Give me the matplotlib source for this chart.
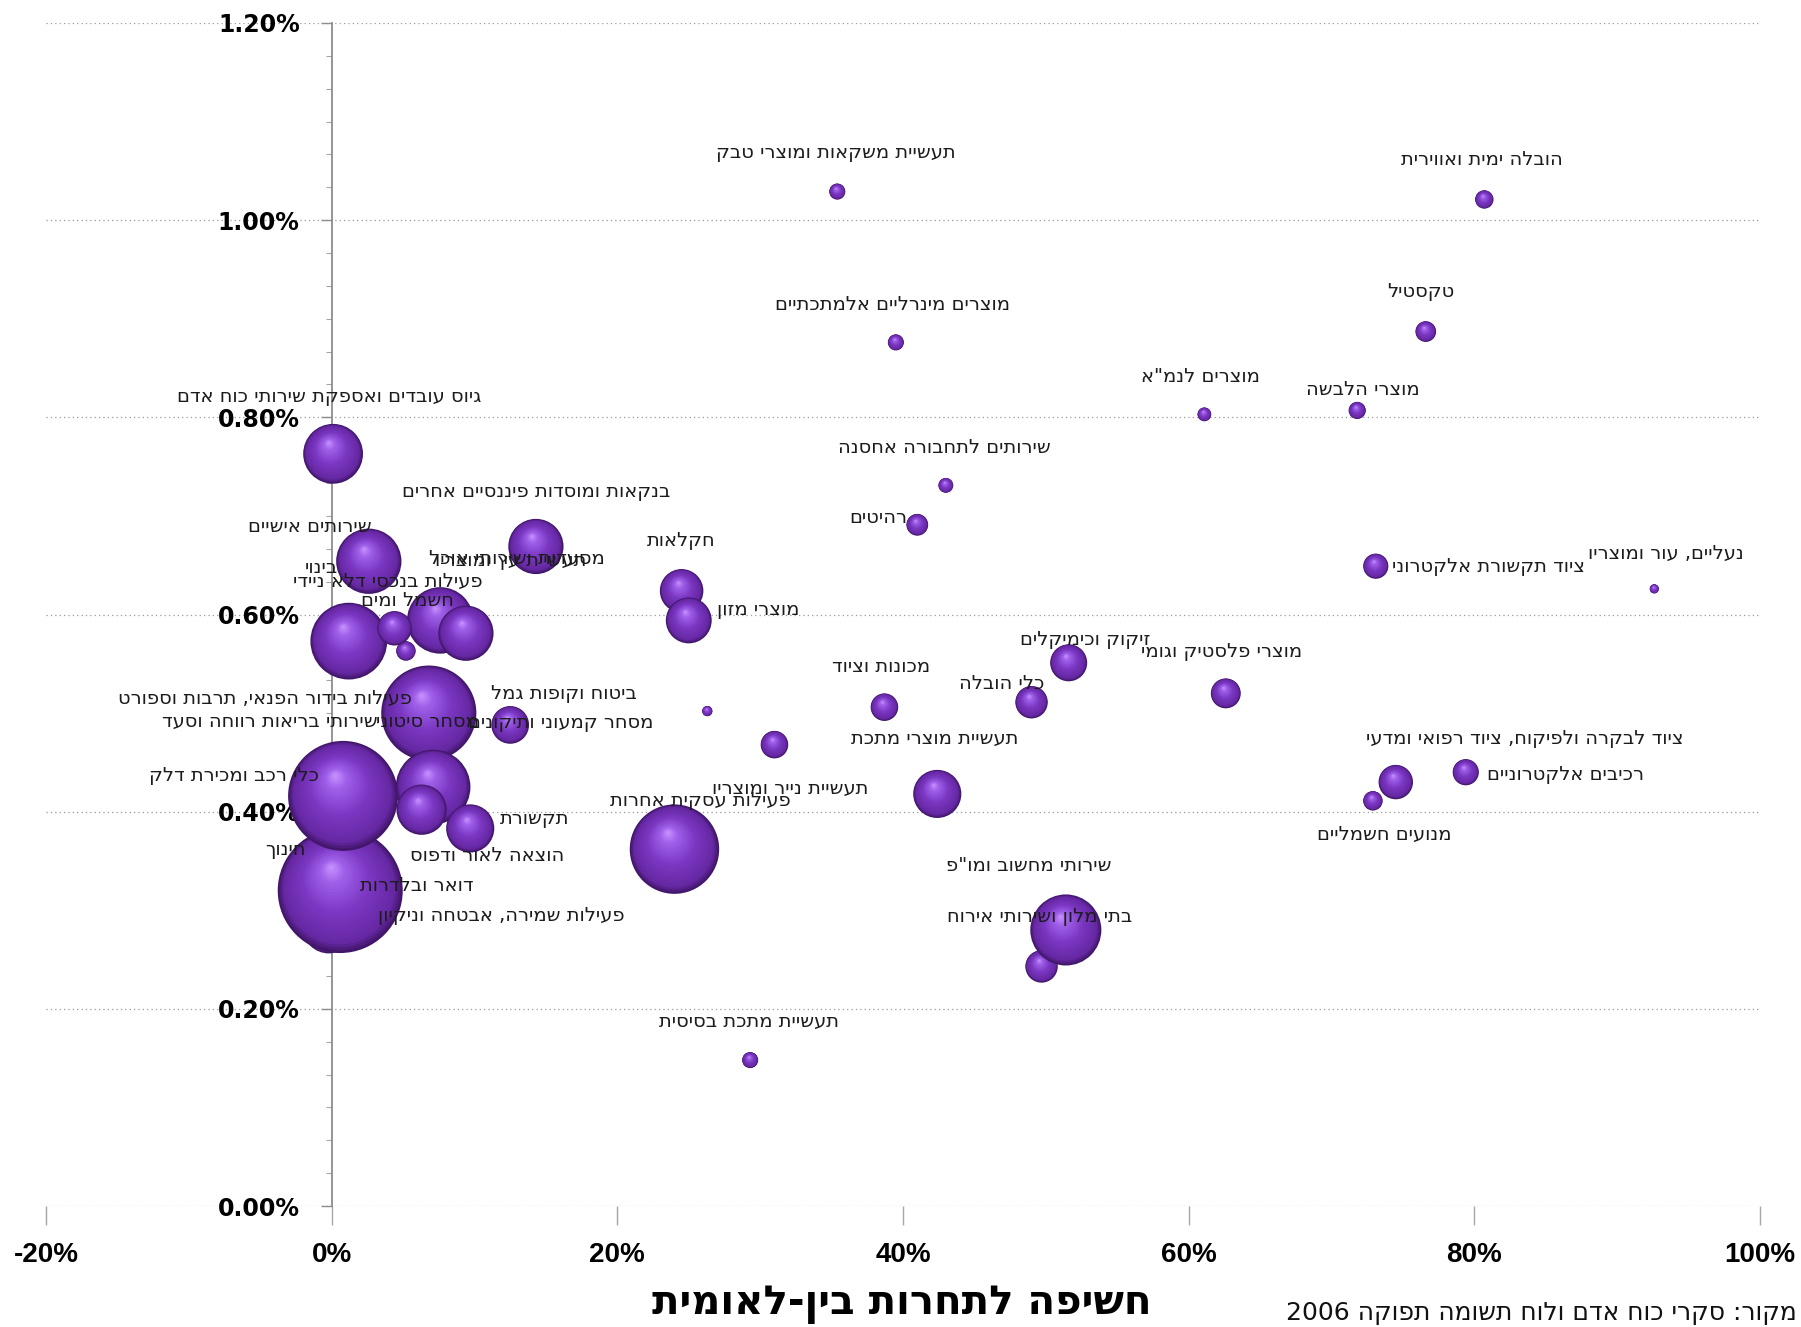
import re
import numpy as np
import matplotlib
matplotlib.use("Agg")
import matplotlib.pyplot as plt
from matplotlib.colors import LinearSegmentedColormap
from matplotlib.ticker import MultipleLocator

# sectors, listed in drawing order (back to front)
sectors = [
    "פעילות שמירה, אבטחה וניקיון",
    "בתי מלון ושירותי אירוח",
    "דואר ובלדרות",
    "תעשיית עץ ומוצריו",
    "חשמל ומים",
    "חינוך",
    "שירותי בריאות רווחה וסעד",
    "מסחר סיטוני",
    "פעילות עסקית אחרות",
    "פעילות בידור הפנאי, תרבות וספורט",
    "כלי רכב ומכירת דלק",
    "שירותי מחשוב ומו\"פ",
    "בינוי",
    "שירותים אישיים",
    "גיוס עובדים ואספקת שירותי כוח אדם",
    "בנקאות ומוסדות פיננסיים אחרים",
    "מסעדות ושירותי אוכל",
    "הוצאה לאור ודפוס",
    "תקשורת",
    "תעשיית מוצרי מתכת",
    "חקלאות",
    "מוצרי מזון",
    "מסחר קמעוני ותיקונים",
    "זיקוק וכימיקלים",
    "פעילות בנכסי דלא ניידי",
    "ציוד לבקרה ולפיקוח, ציוד רפואי ומדעי",
    "כלי הובלה",
    "מוצרי פלסטיק וגומי",
    "מכונות וציוד",
    "תעשיית נייר ומוצריו",
    "רכיבים אלקטרוניים",
    "ציוד תקשורת אלקטרוני",
    "רהיטים",
    "טקסטיל",
    "מנועים חשמליים",
    "הובלה ימית ואווירית",
    "מוצרי הלבשה",
    "תעשיית משקאות ומוצרי טבק",
    "מוצרים מינרליים אלמתכתיים",
    "תעשיית מתכת בסיסית",
    "שירותים לתחבורה אחסנה",
    "מוצרים לנמ\"א",
    "ביטוח וקופות גמל",
    "נעליים, עור ומוצריו",
]

# exposure to international competition (%)
exposure = [
    -0.2, 49.7, 2.5, 7.3, 5.2, 0.6, 0.8, 6.8, 24.0, 1.2, 7.1, 51.4, 7.6, 2.6,
    0.1, 14.3, 9.4, 6.3, 9.7, 42.4, 24.5, 25.0, 12.5, 51.6, 4.4, 74.5, 49.0,
    62.6, 38.7, 31.0, 79.4, 73.1, 41.0, 76.6, 72.9, 80.7, 71.8, 35.4, 39.5,
    29.3, 43.0, 61.1, 26.3, 92.6,
]

# vertical value (%)
share = [
    0.283, 0.243, 0.326, 0.524, 0.563, 0.320, 0.416, 0.500, 0.362, 0.573,
    0.425, 0.280, 0.594, 0.654, 0.763, 0.669, 0.581, 0.402, 0.383, 0.418,
    0.624, 0.594, 0.488, 0.551, 0.586, 0.430, 0.511, 0.520, 0.506, 0.468,
    0.440, 0.649, 0.691, 0.887, 0.411, 1.021, 0.807, 1.029, 0.876, 0.148,
    0.731, 0.803, 0.502, 0.626,
]

# bubble sizes (employment, thousands)
employed = [
    53, 20, 40, 22.5, 7.2, 297, 230, 172, 152, 112, 106, 96, 84, 81, 68, 58,
    58, 48, 44, 44, 36, 40, 27, 26, 22.5, 22.5, 20, 17, 14.4, 14.4, 13, 12,
    9, 8.1, 7.2, 6.4, 5.6, 4.9, 4.9, 4.9, 4.2, 3.6, 2.0, 1.6,
]

# where each sector name is written
label_x = [
    11.91, 49.56, 5.95, 12.55, 5.31, -3.22, -4.34, 6.68, 25.82, -4.67, -6.84,
    48.83, -0.72, -1.53, -0.16, 14.32, 12.95, 10.86, 14.24, 42.24, 24.46,
    29.85, 16.01, 52.78, 3.94, 83.51, 46.90, 62.27, 38.46, 32.10, 86.40,
    81.01, 38.29, 76.27, 73.69, 80.53, 72.16, 35.32, 39.26, 29.20, 42.88,
    60.82, 16.25, 93.40,
]
label_y = [
    0.2948, 0.2936, 0.3251, 0.6548, 0.6140, 0.3612, 0.4917, 0.4917, 0.4113,
    0.5150, 0.4369, 0.3449, 0.6478, 0.6897, 0.8214, 0.7247, 0.6571, 0.3554,
    0.3926, 0.4742, 0.6746, 0.6047, 0.4905, 0.5744, 0.6338, 0.4742, 0.5301,
    0.5627, 0.5476, 0.4241, 0.4381, 0.6490, 0.6979, 0.9274, 0.3775, 1.0614,
    0.8284, 1.0684, 0.9146, 0.1876, 0.7690, 0.8412, 0.5196, 0.6618,
]

x_ticks = [-20, 0, 20, 40, 60, 80, 100]
x_tick_labels = ["-20%", "0%", "20%", "40%", "60%", "80%", "100%"]
y_ticks = [0.0, 0.2, 0.4, 0.6, 0.8, 1.0, 1.2]
y_tick_labels = ["0.00%", "0.20%", "0.40%", "0.60%", "0.80%", "1.00%", "1.20%"]

x_title = "חשיפה לתחרות בין-לאומית"
source_note = "מקור: סקרי כוח אדם ולוח תשומה תפוקה 2006"


def rtl(s):
    # matplotlib lays text out left to right: flip Hebrew, keep numbers intact
    return "".join(reversed(re.findall(r"\d+|.", s)))


DPI = 100
W, H = 1801, 1327
fig = plt.figure(figsize=(W / DPI, H / DPI), dpi=DPI)
ax = fig.add_axes([46 / W, 121 / H, 1714 / W, 1183 / H])
ax.set_xlim(-20, 100)
ax.set_ylim(0, 1.2)

px_x = ax.bbox.width / 120.0
px_y = ax.bbox.height / 1.2

sphere = LinearSegmentedColormap.from_list(
    "sphere",
    [(0.0, "#42166b"), (0.10, "#6628a3"), (0.45, "#7b37c2"),
     (0.80, "#a060ea"), (1.0, "#cc98ff")])

max_d = 125.0   # pixel diameter of the biggest bubble
n_layers = 30
t = np.linspace(0, 0.97, n_layers)
cols = sphere(t)
big = max(employed)

for i in range(len(sectors)):
    d = max_d * np.sqrt(employed[i] / big)
    r = d / 2
    # shrink circles toward an upper-left highlight to fake the 3D shading
    xs = exposure[i] + t * (-0.15 * r) / px_x
    ys = share[i] + t * (0.38 * r) / px_y
    diam_pt = 2 * r * (1 - t) * 72.0 / DPI
    ax.scatter(xs, ys, s=diam_pt ** 2, c=cols, linewidths=0, zorder=3 + i * 0.01)

for i, name in enumerate(sectors):
    ax.text(label_x[i], label_y[i], rtl(name), ha="center", va="center",
            fontsize=14, family=["DejaVu Sans"], color="#1c1c1c", zorder=10)

# axes look
for side in ("top", "right", "bottom"):
    ax.spines[side].set_visible(False)
ax.spines["left"].set_position(("data", 0))
ax.spines["left"].set_color("#8c8c8c")
ax.spines["left"].set_linewidth(1.3)

ax.set_xticks(x_ticks)
ax.set_xticklabels(x_tick_labels, fontsize=20, fontweight="bold",
                   family=["Liberation Sans", "DejaVu Sans"])
ax.set_yticks(y_ticks)
ax.set_yticklabels(y_tick_labels, fontsize=17, fontweight="bold",
                   family=["DejaVu Sans"])
ax.yaxis.set_minor_locator(MultipleLocator(0.2 / 6))
ax.tick_params(axis="x", direction="out", length=14, width=1, color="#a6a6a6",
               pad=12)
ax.tick_params(axis="y", which="major", direction="out", length=8, width=1,
               color="#8c8c8c", pad=15)
ax.tick_params(axis="y", which="minor", direction="out", length=4, width=0.8,
               color="#a6a6a6")

ax.yaxis.grid(True, which="major", linestyle=(0, (1, 2.5)), color="#9a9a9a",
              linewidth=0.9)
ax.set_axisbelow(True)

fig.text(902 / W, 1 - 1304 / H, rtl(x_title), ha="center", va="center",
         fontsize=29, fontweight="bold", family=["DejaVu Sans"])
fig.text(1797 / W, 1 - 1313 / H, rtl(source_note), ha="right", va="center",
         fontsize=18, family=["DejaVu Sans"], color="#111111")

fig.savefig("out.png", dpi=DPI, facecolor="white")
